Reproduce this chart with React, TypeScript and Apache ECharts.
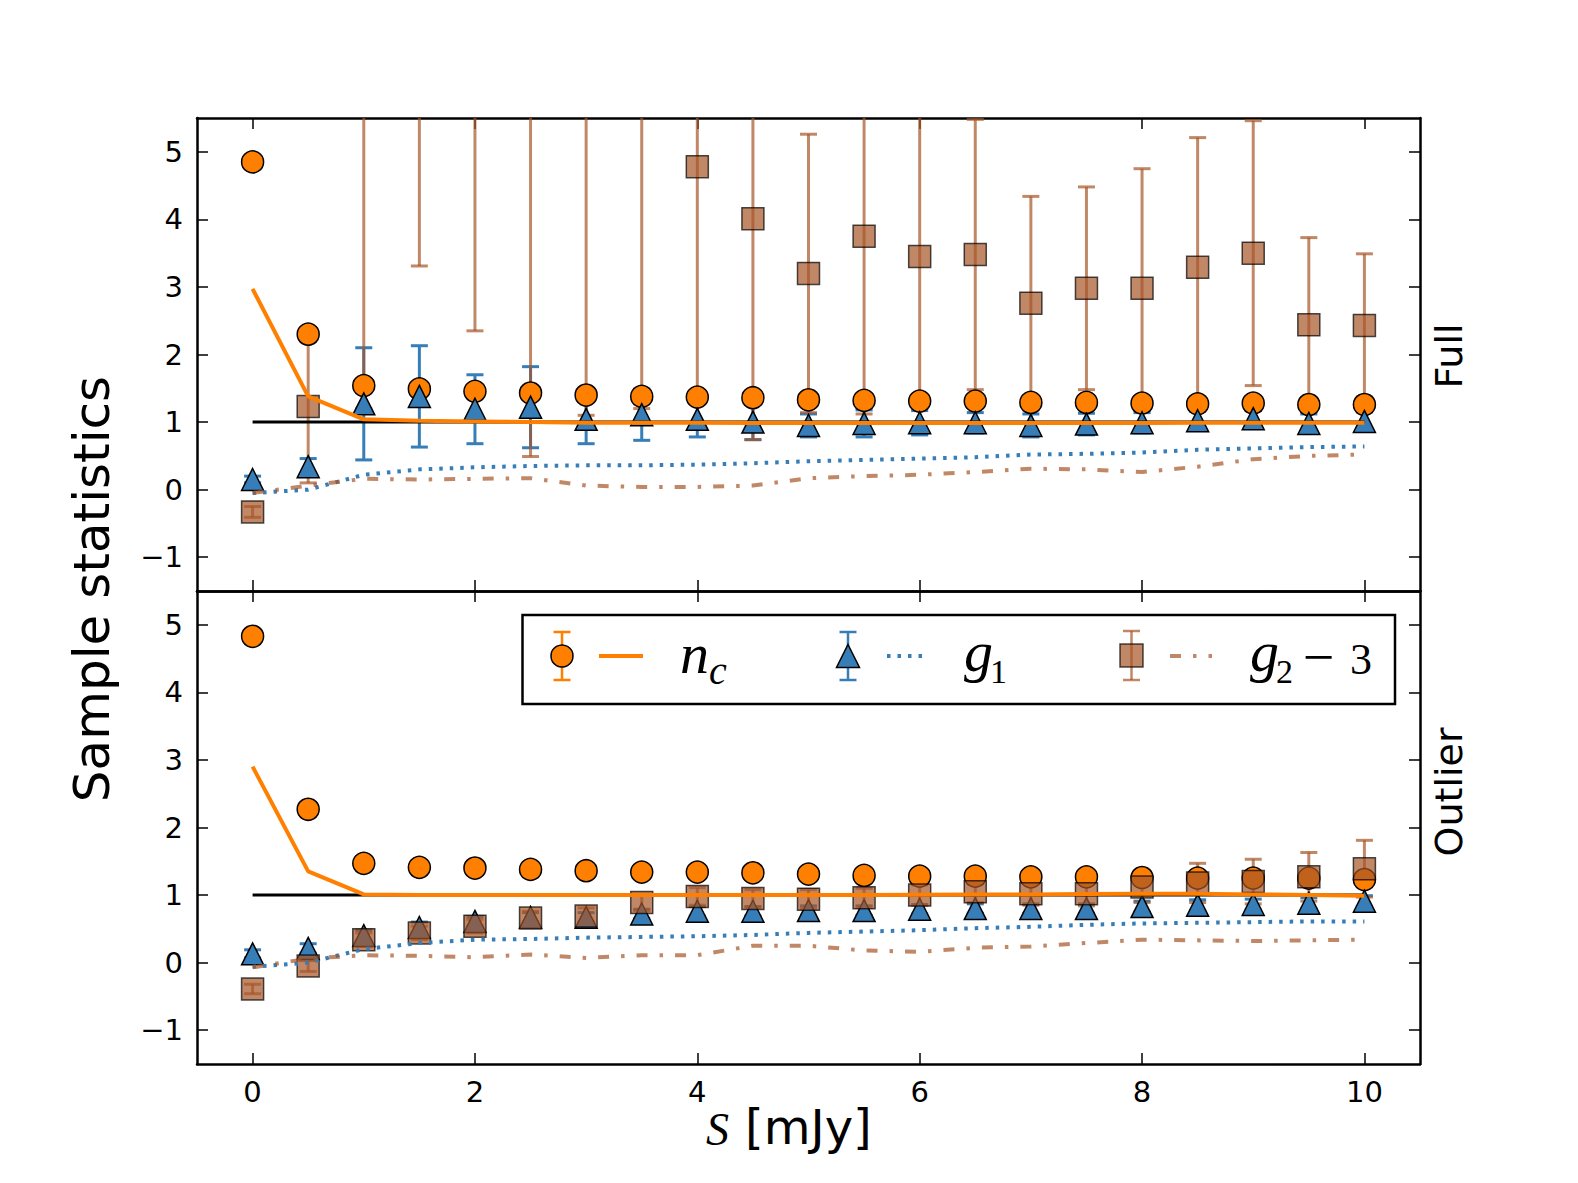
import React, { useEffect, useRef } from 'react';
import * as echarts from 'echarts';

// ---------------- data ----------------
const S_VALUES = [0, 0.5, 1, 1.5, 2, 2.5, 3, 3.5, 4, 4.5, 5, 5.5, 6, 6.5, 7, 7.5, 8, 8.5, 9, 9.5, 10];
const X_TICKS = [0, 2, 4, 6, 8, 10];
const Y_TICKS = [-1, 0, 1, 2, 3, 4, 5];
const X_MIN = -0.5;
const X_MAX = 10.5;
const Y_MIN = -1.5;
const Y_MAX = 5.5;
const REF_X = [0, 10];
const REF_Y = 1;

// Full sample (top panel)
const FULL_NC_PTS = [4.85, 2.30, 1.54, 1.49, 1.455, 1.43, 1.40, 1.38, 1.37, 1.36, 1.33, 1.32, 1.31, 1.31, 1.29, 1.29, 1.28, 1.27, 1.28, 1.26, 1.26];
const FULL_NC_ERR = [0.1, 0.1, 0.08, 0.08, 0.07, 0.07, 0.06, 0.06, 0.06, 0.05, 0.05, 0.05, 0.05, 0.05, 0.05, 0.05, 0.05, 0.04, 0.04, 0.04, 0.04];
const FULL_NC_LINE = [2.97, 1.38, 1.04, 1.02, 1.01, 1.0, 0.99, 0.99, 0.99, 0.985, 0.985, 0.985, 0.985, 0.985, 0.985, 0.985, 0.985, 0.99, 0.99, 0.99, 0.99];
const FULL_G1_PTS = [0.15, 0.34, 1.27, 1.38, 1.19, 1.22, 1.04, 1.11, 1.04, 1.00, 0.95, 0.98, 0.99, 0.99, 0.95, 0.97, 0.99, 1.02, 1.05, 0.98, 1.01];
const FULL_G1_ERR = [0.05, 0.12, 0.83, 0.75, 0.51, 0.60, 0.36, 0.38, 0.26, 0.26, 0.17, 0.20, 0.18, 0.15, 0.17, 0.16, 0.15, 0.14, 0.12, 0.14, 0.14];
const FULL_G1_LINE = [-0.05, 0.0, 0.22, 0.30, 0.33, 0.35, 0.36, 0.36, 0.37, 0.39, 0.42, 0.44, 0.46, 0.48, 0.52, 0.53, 0.55, 0.59, 0.61, 0.63, 0.64];
const FULL_G2_PTS = [-0.33, 1.23, 7.5, 8.0, 7.0, 6.5, 6.0, 5.9, 4.78, 4.01, 3.20, 3.75, 3.45, 3.48, 2.76, 2.98, 2.98, 3.29, 3.50, 2.44, 2.43];
const FULL_G2_ERR = [0.08, 1.13, 6.3, 4.69, 4.65, 6.01, 4.9, 4.7, 3.5, 3.27, 2.06, 2.63, 2.25, 2.0, 1.58, 1.5, 1.77, 1.92, 1.96, 1.29, 1.06];
const FULL_G2_LINE = [-0.05, 0.06, 0.16, 0.15, 0.16, 0.17, 0.06, 0.04, 0.04, 0.06, 0.17, 0.20, 0.22, 0.26, 0.31, 0.30, 0.26, 0.34, 0.45, 0.50, 0.52];

// Outlier sample (bottom panel)
const OUT_NC_PTS = [4.83, 2.27, 1.47, 1.41, 1.40, 1.38, 1.36, 1.34, 1.34, 1.33, 1.31, 1.29, 1.28, 1.28, 1.27, 1.27, 1.26, 1.25, 1.25, 1.25, 1.23];
const OUT_NC_ERR = [0.08, 0.08, 0.06, 0.06, 0.05, 0.05, 0.05, 0.05, 0.05, 0.05, 0.05, 0.05, 0.05, 0.05, 0.05, 0.05, 0.05, 0.05, 0.05, 0.05, 0.05];
const OUT_NC_LINE = [2.90, 1.35, 1.01, 1.0, 1.0, 1.0, 1.0, 1.0, 1.0, 1.0, 1.0, 1.0, 1.005, 1.01, 1.01, 1.015, 1.02, 1.02, 1.01, 1.0, 0.99];
const OUT_G1_PTS = [0.13, 0.21, 0.40, 0.52, 0.61, 0.67, 0.67, 0.72, 0.76, 0.76, 0.77, 0.77, 0.79, 0.80, 0.80, 0.80, 0.83, 0.85, 0.86, 0.88, 0.91];
const OUT_G1_ERR = [0.06, 0.07, 0.08, 0.08, 0.07, 0.07, 0.07, 0.07, 0.07, 0.07, 0.07, 0.07, 0.07, 0.07, 0.07, 0.07, 0.08, 0.08, 0.08, 0.08, 0.08];
const OUT_G1_LINE = [-0.06, 0.0, 0.20, 0.29, 0.34, 0.35, 0.37, 0.38, 0.39, 0.41, 0.44, 0.46, 0.48, 0.51, 0.53, 0.56, 0.58, 0.59, 0.60, 0.61, 0.61];
const OUT_G2_PTS = [-0.39, -0.05, 0.34, 0.44, 0.54, 0.66, 0.69, 0.89, 0.98, 0.95, 0.94, 0.96, 1.00, 1.05, 1.02, 1.02, 1.12, 1.18, 1.20, 1.27, 1.39];
const OUT_G2_ERR = [0.07, 0.08, 0.1, 0.1, 0.1, 0.1, 0.12, 0.12, 0.13, 0.13, 0.14, 0.14, 0.15, 0.16, 0.17, 0.18, 0.23, 0.29, 0.33, 0.36, 0.42];
const OUT_G2_LINE = [-0.07, 0.06, 0.11, 0.10, 0.08, 0.12, 0.07, 0.11, 0.11, 0.25, 0.25, 0.18, 0.16, 0.22, 0.24, 0.29, 0.34, 0.33, 0.32, 0.33, 0.34];

// ---------------- styles ----------------
const ORANGE = '#ff7f00';
const BLUE = '#377eb8';
const BROWN = '#a65628';
const BROWN_A = 'rgba(166,86,40,0.7)';
const TICK_FONT = 'DejaVu Sans';
const MATH_FONT = 'Liberation Serif';
const DOT_DASH = [3.5, 7];
const DASH_DOT = [11, 12, 3.5, 12];

function pairs(ys: number[]) {
  return S_VALUES.map((x, i) => [x, ys[i]]);
}
function triples(ys: number[], es: number[]) {
  return S_VALUES.map((x, i) => [x, ys[i], es[i]]);
}

function makeErrRender(color: string, lw: number) {
  return function (_params: any, api: any) {
    const x = api.value(0);
    const y = api.value(1);
    const e = api.value(2);
    const lo = y - e;
    const hi = y + e;
    const a = Math.max(lo, Y_MIN);
    const b = Math.min(hi, Y_MAX);
    if (b <= a) return { type: 'group', children: [] };
    const p1 = api.coord([x, a]);
    const p2 = api.coord([x, b]);
    const cw = 8.5;
    const mk = (x1: number, y1: number, x2: number, y2: number) => ({
      type: 'line',
      shape: { x1, y1, x2, y2 },
      style: { stroke: color, lineWidth: lw, fill: null },
    });
    const children: any[] = [mk(p1[0], p1[1], p2[0], p2[1])];
    if (lo >= Y_MIN) children.push(mk(p1[0] - cw, p1[1], p1[0] + cw, p1[1]));
    if (hi <= Y_MAX) children.push(mk(p2[0] - cw, p2[1], p2[0] + cw, p2[1]));
    return { type: 'group', children };
  };
}

function panelSeries(p: number, d: any) {
  const xi = p * 2;
  const yi = p * 2;
  const base = { xAxisIndex: xi, yAxisIndex: yi, silent: true, animation: false };
  const errSeries = (ys: number[], es: number[], color: string) => ({
    ...base,
    type: 'custom',
    clip: true,
    renderItem: makeErrRender(color, 3),
    encode: { x: 0, y: 1 },
    data: triples(ys, es),
  });
  const lineSeries = (ys: number[], color: string, width: number, type: any) => ({
    ...base,
    type: 'line',
    data: pairs(ys),
    symbol: 'none',
    showSymbol: false,
    clip: true,
    itemStyle: { color },
    lineStyle: { color, width, type, cap: 'butt' },
  });
  const scatter = (ys: number[], symbol: string, color: string, opacity: number) => ({
    ...base,
    type: 'scatter',
    data: pairs(ys),
    symbol,
    symbolSize: 22,
    clip: true,
    itemStyle: { color, borderColor: '#000', borderWidth: 1.5, opacity },
  });
  return [
    errSeries(d.ncPts, d.ncErr, ORANGE),
    errSeries(d.g1Pts, d.g1Err, BLUE),
    errSeries(d.g2Pts, d.g2Err, BROWN_A),
    {
      ...base,
      type: 'line',
      data: REF_X.map((x) => [x, REF_Y]),
      symbol: 'none',
      showSymbol: false,
      itemStyle: { color: '#000' },
      lineStyle: { color: '#000', width: 3 },
    },
    scatter(d.ncPts, 'circle', ORANGE, 1),
    lineSeries(d.ncLine, ORANGE, 4, 'solid'),
    scatter(d.g1Pts, 'triangle', BLUE, 1),
    lineSeries(d.g1Line, BLUE, 4, DOT_DASH),
    scatter(d.g2Pts, 'rect', BROWN, 0.7),
    lineSeries(d.g2Line, BROWN_A, 4, DASH_DOT),
  ];
}

const fmtY = (v: number) => (v < 0 ? '\u2212' + Math.abs(v) : String(v));

function xAxis(gridIndex: number, position: string, showLabel: boolean) {
  return {
    type: 'value',
    gridIndex,
    position,
    min: X_MIN,
    max: X_MAX,
    axisLine: { show: true, onZero: false, lineStyle: { color: '#000', width: 2.5 } },
    axisTick: { show: true, inside: true, length: 11, customValues: X_TICKS, lineStyle: { color: '#000', width: 1.5 } },
    axisLabel: {
      show: showLabel,
      customValues: X_TICKS,
      margin: 13,
      color: '#000',
      fontFamily: TICK_FONT,
      fontSize: 29,
    },
    splitLine: { show: false },
  };
}
function yAxis(gridIndex: number, position: string, showLabel: boolean) {
  return {
    type: 'value',
    gridIndex,
    position,
    min: Y_MIN,
    max: Y_MAX,
    axisLine: { show: true, onZero: false, lineStyle: { color: '#000', width: 2.5 } },
    axisTick: { show: true, inside: true, length: 11, customValues: Y_TICKS, lineStyle: { color: '#000', width: 1.5 } },
    axisLabel: {
      show: showLabel,
      customValues: Y_TICKS,
      margin: 14,
      color: '#000',
      fontFamily: TICK_FONT,
      fontSize: 29,
      formatter: fmtY,
    },
    splitLine: { show: false },
  };
}

function txt(text: string, x: number, y: number, font: string, align: string, extra: any = {}) {
  return {
    type: 'text',
    x,
    y,
    z: 100,
    silent: true,
    ...extra,
    style: {
      text,
      font,
      fill: '#000',
      align,
      textAlign: align,
      verticalAlign: 'middle',
      textVerticalAlign: 'middle',
    },
  };
}
function gline(x1: number, y1: number, x2: number, y2: number, stroke: string, lineWidth: number, lineDash?: number[]) {
  return {
    type: 'line',
    z: 100,
    silent: true,
    shape: { x1, y1, x2, y2 },
    style: { stroke, lineWidth, lineDash: lineDash || null, lineCap: 'butt' },
  };
}
function gerr(cx: number, y1: number, y2: number, stroke: string) {
  return [
    gline(cx, y1, cx, y2, stroke, 2.5),
    gline(cx - 8.5, y1, cx + 8.5, y1, stroke, 2.5),
    gline(cx - 8.5, y2, cx + 8.5, y2, stroke, 2.5),
  ];
}

export default function App() {
  const ref = useRef<HTMLDivElement>(null);
  useEffect(() => {
    if (!ref.current) return;
    const chart = echarts.init(ref.current, undefined, { renderer: 'svg' });
    const full = {
      ncPts: FULL_NC_PTS, ncErr: FULL_NC_ERR, ncLine: FULL_NC_LINE,
      g1Pts: FULL_G1_PTS, g1Err: FULL_G1_ERR, g1Line: FULL_G1_LINE,
      g2Pts: FULL_G2_PTS, g2Err: FULL_G2_ERR, g2Line: FULL_G2_LINE,
    };
    const out = {
      ncPts: OUT_NC_PTS, ncErr: OUT_NC_ERR, ncLine: OUT_NC_LINE,
      g1Pts: OUT_G1_PTS, g1Err: OUT_G1_ERR, g1Line: OUT_G1_LINE,
      g2Pts: OUT_G2_PTS, g2Err: OUT_G2_ERR, g2Line: OUT_G2_LINE,
    };
    const legend: any[] = [
      {
        type: 'rect', z: 99, silent: true,
        shape: { x: 522.5, y: 615, width: 872.5, height: 89 },
        style: { fill: '#fff', stroke: '#000', lineWidth: 2.5 },
      },
      // n_c
      ...gerr(562, 632, 680, ORANGE),
      { type: 'circle', z: 101, silent: true, shape: { cx: 562, cy: 656, r: 11 }, style: { fill: ORANGE, stroke: '#000', lineWidth: 1.5 } },
      gline(599, 656, 643, 656, ORANGE, 4),
      txt('n', 680, 673 - 0.3375 * 58, 'italic 58px "' + MATH_FONT + '"', 'left'),
      txt('c', 709, 684 - 0.3375 * 40, 'italic 40px "' + MATH_FONT + '"', 'left'),
      // g1
      ...gerr(848, 632, 680, BLUE),
      {
        type: 'polygon', z: 101, silent: true,
        shape: { points: [[848, 644.5], [859.5, 667.5], [836.5, 667.5]] },
        style: { fill: BLUE, stroke: '#000', lineWidth: 1.5 },
      },
      gline(887, 656, 924, 656, BLUE, 4, DOT_DASH),
      txt('g', 964, 671 - 0.3375 * 58, 'italic 58px "' + MATH_FONT + '"', 'left'),
      txt('1', 990, 683 - 0.3375 * 34, '34px "' + MATH_FONT + '"', 'left'),
      // g2 - 3
      ...gerr(1131.5, 631, 680, BROWN_A),
      {
        type: 'rect', z: 101, silent: true,
        shape: { x: 1120, y: 644, width: 23, height: 23 },
        style: { fill: BROWN_A, stroke: 'rgba(0,0,0,0.7)', lineWidth: 1.5 },
      },
      gline(1170, 656, 1212, 656, BROWN_A, 4, DASH_DOT),
      txt('g', 1250, 671 - 0.3375 * 58, 'italic 58px "' + MATH_FONT + '"', 'left'),
      txt('2', 1276, 683 - 0.3375 * 34, '34px "' + MATH_FONT + '"', 'left'),
      txt('\u2212', 1318.5, 676 - 0.3375 * 56, '56px "' + MATH_FONT + '"', 'center'),
      txt('3', 1350, 674 - 0.3375 * 44, '44px "' + MATH_FONT + '"', 'left'),
    ];
    const labels: any[] = [
      txt('Sample statistics', 91.5, 589, '50px "' + TICK_FONT + '"', 'center', { rotation: Math.PI / 2 }),
      txt('Full', 1448.5, 356, '38px "' + TICK_FONT + '"', 'center', { rotation: Math.PI / 2 }),
      txt('Outlier', 1448.5, 792, '38px "' + TICK_FONT + '"', 'center', { rotation: Math.PI / 2 }),
      txt('S', 706, 1145 - 0.3375 * 46, 'italic 46px "' + MATH_FONT + '"', 'left'),
      txt('[mJy]', 745, 1144 - 0.346 * 48, '48px "' + TICK_FONT + '"', 'left'),
    ];
    chart.setOption({
      animation: false,
      backgroundColor: '#fff',
      grid: [
        { left: 197, top: 118, width: 1223, height: 473, containLabel: false },
        { left: 197, top: 591, width: 1223, height: 473, containLabel: false },
      ],
      xAxis: [xAxis(0, 'bottom', false), xAxis(0, 'top', false), xAxis(1, 'bottom', true), xAxis(1, 'top', false)],
      yAxis: [yAxis(0, 'left', true), yAxis(0, 'right', false), yAxis(1, 'left', true), yAxis(1, 'right', false)],
      series: [...panelSeries(0, full), ...panelSeries(1, out)],
      graphic: { elements: [...legend, ...labels] },
    });
    return () => chart.dispose();
  }, []);
  return (
    <div
      ref={ref}
      style={{ position: 'fixed', left: 0, top: 0, width: 1578, height: 1183, background: '#fff' }}
    />
  );
}
